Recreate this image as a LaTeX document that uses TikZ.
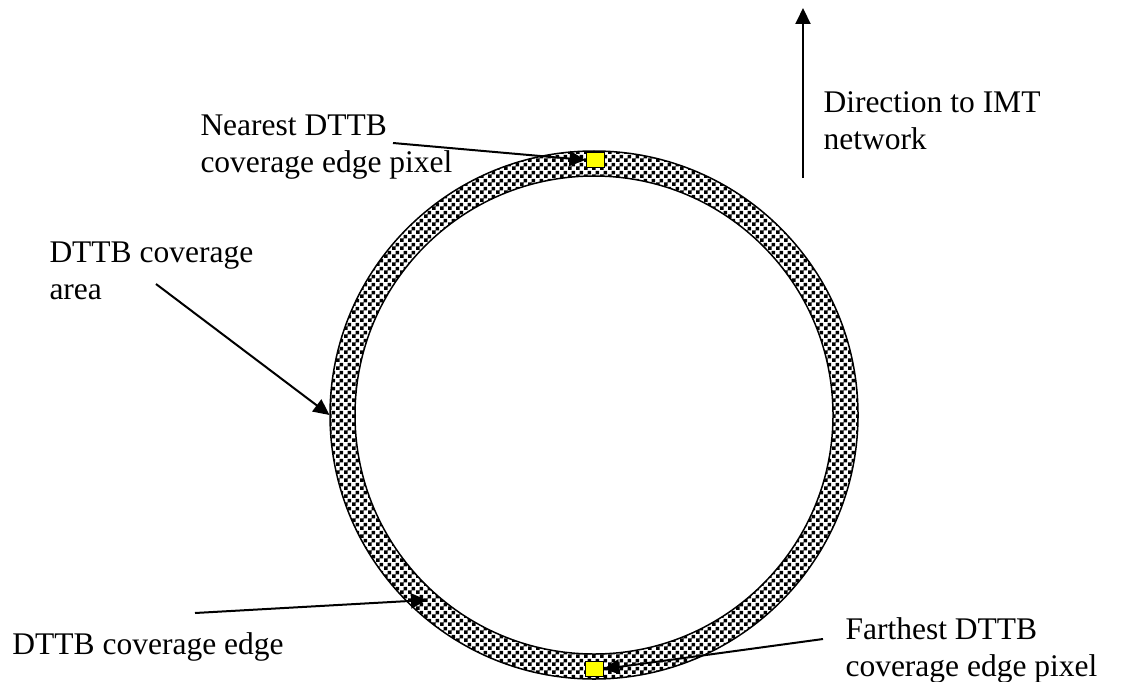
\documentclass[tikz,border=0pt]{standalone}
\usepackage{fontspec}
\setmainfont{Liberation Serif}
\usepackage{tikz}
\usetikzlibrary{arrows.meta, patterns, positioning}
\definecolor{pixelyellow}{RGB}{255,255,0}
% small black/white checks for the coverage ring
\pgfdeclarepatternformonly{finechecker}{\pgfpointorigin}{\pgfpoint{3.2pt}{3.2pt}}{\pgfpoint{3.2pt}{3.2pt}}{%
  \pgfpathrectangle{\pgfpointorigin}{\pgfpoint{1.6pt}{1.6pt}}%
  \pgfpathrectangle{\pgfpoint{1.6pt}{1.6pt}}{\pgfpoint{1.6pt}{1.6pt}}%
  \pgfusepath{fill}}
\tikzset{
  label text/.style={
    anchor=north west, inner sep=0pt, align=left,
    font=\fontsize{12.6}{14.8}\selectfont
  },
  pointer/.style={-{Triangle[length=6.4pt,width=6pt]}, line width=0.8pt},
  pixel/.style={
    draw, fill=pixelyellow, line width=0.4pt,
    minimum width=7.2pt, minimum height=6pt, inner sep=0pt
  },
  coverage ring/.style={draw, line width=0.6pt, pattern=finechecker, even odd rule},
}
\begin{document}
\begin{tikzpicture}[x=0.4pt, y=0.4pt]
  \useasboundingbox (0,0) rectangle (1143,681);

  % coverage area ring
  \node[circle, inner sep=0pt, minimum size=211.2pt] (outer) at (594,266) {};
  \path[coverage ring] (outer.center) circle[radius=264] (outer.center) circle[radius=239];

  % edge pixels
  \node[pixel] (near) at (595,521) {};
  \node[pixel] (far) at (594,12) {};

  % labels
  \node[label text] (nearlbl) at (200,567) {Nearest DTTB\\coverage edge pixel};
  \node[label text] (arealbl) at (49,440) {DTTB coverage\\area};
  \node[label text] (dirlbl) at (823,590) {Direction to IMT\\network};
  \node[label text] (edgelbl) at (12,49) {DTTB coverage edge};
  \node[label text] (farlbl) at (845,64) {Farthest DTTB\\coverage edge pixel};

  % arrow ends
  \coordinate (nearTail) at (393,538);
  \coordinate (areaTail) at (156,397);
  \coordinate (edgeTail) at (195,68);
  \coordinate (edgeTip) at (427,81);
  \coordinate (farTail) at (823,42);
  \coordinate (dirTail) at (803,503);
  \coordinate (dirTip) at (803,673);

  \draw[pointer] (nearTail) -- (near.west);
  \draw[pointer] (areaTail) -- (outer.west);
  \draw[pointer] (edgeTail) -- (edgeTip);
  \draw[pointer] (farTail) -- (far.east);
  \draw[pointer] (dirTail) -- (dirTip);
\end{tikzpicture}
\end{document}
